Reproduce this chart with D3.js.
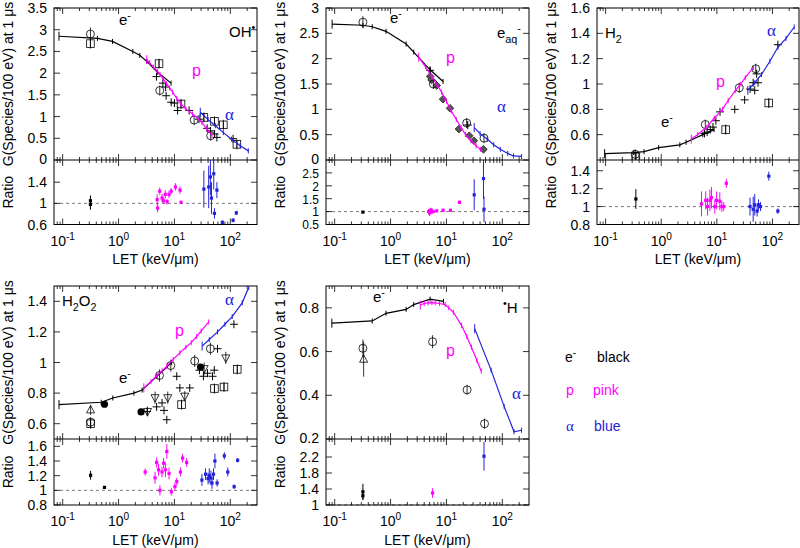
<!DOCTYPE html>
<html>
<head>
<meta charset="utf-8">
<script src="https://cdnjs.cloudflare.com/ajax/libs/d3/7.8.5/d3.min.js"></script>
<style>
  body { margin: 0; background: #fff; }
  text { font-family: "Liberation Sans", Arial, Helvetica, sans-serif; }
</style>
</head>
<body>
<div id="chart"></div>
<script>
// ---------- data (LET keV/um, G value, optional error) ----------
var xDecades = [0.1, 1, 10, 100];

// OH
var ohSimE = [[0.086,2.85],[0.42,2.80],[0.78,2.73],[1.8,2.50],[2.4,2.41],[3.2,2.27],[5.0,2.02],[8.7,1.77]];
var ohSimP = [[3.2,2.31],[3.6,2.24],[4.2,2.14],[4.9,2.05],[5.5,1.97],[6.3,1.87],[7.2,1.76],[8.2,1.66],[9.3,1.56],[11,1.42],[13,1.29],[16,1.18],[21,1.06],[26,0.96],[31,0.86],[38,0.72],[47,0.56]];
var ohSimA = [[29,1.10],[40,0.93],[54,0.79],[75,0.63],[105,0.48],[150,0.33],[210,0.21]];
var ohCircle = [[0.314,2.90,0.15],[5.46,1.60,0.05],[22.5,0.92,0.05],[44.5,0.56,0.04]];
var ohSquare = [[0.314,2.68],[5.3,2.22],[13.1,1.29],[33.6,0.98],[52,0.89],[75,0.81],[131,0.36]];
var ohPlus = [[4.77,1.92],[6.2,1.77],[6.95,1.68],[7.1,1.48],[8.75,1.33],[10,1.31],[11.4,1.14],[18.3,1.14],[27.4,0.94],[38.5,0.73],[44,0.67],[52.3,0.60],[57.5,0.52],[112,0.49]];
var ohRatioE = [[0.314,1.05,0.1],[0.314,0.98,0.1]];
var ohRatioP = [[4.9,1.07,0.1],[5.0,0.91,0.08],[5.46,1.23,0.07],[6.0,1.10,0.08],[6.4,1.05,0.06],[6.85,1.17,0.08],[7.4,1.03,0.05],[8.0,1.17,0.07],[8.75,1.23,0.06],[10.4,1.31,0.07],[12.6,1.25,0.07],[13.1,1.02,0.03]];
var ohRatioA = [[33.6,1.27,0.35],[41,1.31,0.4],[44,1.50,0.35],[46,1.10,0.3],[50.5,1.56,0.3],[52,0.81,0.1],[57.5,1.25,0.15],[72,0.64,0.04],[112,0.68,0.04],[128,0.82,0.04]];
var ohTicks = [0, 0.5, 1, 1.5, 2, 2.5, 3, 3.5];
var ohRatioTicks = [0.6, 1, 1.4];

// e_aq
var eaqSimE = [[0.09,2.68],[0.32,2.66],[0.47,2.63],[0.83,2.54],[1.9,2.29],[2.6,2.13],[5.1,1.78],[8.7,1.55]];
var eaqSimP = [[3.2,2.03],[4.2,1.84],[5.5,1.64],[6.8,1.48],[8.2,1.34],[10,1.16],[12.2,0.97],[15,0.80],[18.3,0.64],[22,0.50],[27.4,0.38],[34,0.28],[41,0.21]];
var eaqSimA = [[31.4,0.64],[40,0.52],[54,0.41],[70,0.30],[92,0.21],[125,0.13],[158,0.08],[221,0.07]];
var eaqCircle = [[0.32,2.72,0.12],[5.84,1.50,0.05],[23,0.73,0.05],[47,0.43,0.04]];
var eaqDiamond = [[5.1,1.65],[5.4,1.58],[6.7,1.47],[8.7,1.20],[11.6,1.02],[16.7,0.61],[25.6,0.48],[31,0.38],[46,0.21]];
var eaqPlus = [[5.1,1.77,0.06],[24,0.69,0.04]];
var eaqRatioE = [[0.32,0.98,0.03]];
var eaqRatioP = [[4.8,1.0,0.1],[5.0,0.95,0.12],[5.2,1.05,0.1],[5.5,1.02,0.12],[5.8,1.0,0.05],[6.7,1.03,0.05],[8.7,1.05,0.06],[11.8,1.05,0.06],[17.1,1.36,0.07]];
var eaqRatioA = [[31.4,1.65,0.6],[46,2.28,0.8],[47,1.09,0.5]];
var eaqTicks = [0, 0.5, 1, 1.5, 2, 2.5, 3];
var eaqRatioTicks = [0.5, 1, 1.5, 2, 2.5];

// H2
var h2SimE = [[0.096,0.45],[0.32,0.458],[0.49,0.466],[0.9,0.498],[2.16,0.52],[2.8,0.54],[5.6,0.60],[8.9,0.64]];
var h2SimP = [[3.47,0.565],[4.5,0.60],[6.4,0.657],[9,0.73],[12.6,0.80],[16,0.87],[21.6,0.95],[27,1.0],[32.4,1.05],[45.5,1.13]];
var h2SimA = [[36,0.95],[48,1.01],[63.6,1.075],[90,1.18],[125,1.29],[176,1.36],[246,1.45]];
var h2Circle = [[0.34,0.445,0.02],[6.2,0.68,0.03],[25.3,0.97,0.04],[50,1.12,0.04]];
var h2Square = [[0.35,0.424],[14.4,0.64],[85.7,0.85]];
var h2Plus = [[6.0,0.61],[6.7,0.62],[7.6,0.64],[8.5,0.66],[9.6,0.71],[11.4,0.78],[21,0.80],[31.6,0.875],[39.6,0.96],[45,1.01],[48,0.95],[52,1.08],[55,1.01],[125,1.31]];
var h2RatioE = [[0.35,1.085,0.11]];
var h2RatioP = [[5.3,1.03,0.14],[6.3,1.07,0.1],[6.8,1.0,0.1],[7.5,1.07,0.12],[8.0,1.10,0.12],[9.2,1.0,0.08],[9.9,1.07,0.1],[11.3,1.06,0.1],[12.3,1.0,0.06],[13.3,1.0,0.05],[14.8,1.26,0.05]];
var h2RatioA = [[39.5,1.0,0.1],[45,0.97,0.14],[48,1.02,0.12],[53,0.95,0.06],[56,1.02,0.06],[61,1.0,0.05],[86,1.34,0.05],[125,0.95,0.03]];
var h2Ticks = [0.6, 0.8, 1, 1.2, 1.4, 1.6];
var h2RatioTicks = [0.8, 1, 1.2, 1.4];

// H2O2
var h2o2SimE = [[0.086,0.725],[0.49,0.74],[0.79,0.768],[1.88,0.80],[2.64,0.82],[4.86,0.91],[8.9,1.0]];
var h2o2SimP = [[2.83,0.834],[3.8,0.875],[4.86,0.915],[6,0.945],[7.3,0.976],[9.5,1.02],[12.5,1.063],[16,1.10],[20,1.13],[25,1.17],[30,1.205],[41,1.265]];
var h2o2SimA = [[31.3,1.107],[42,1.15],[59,1.20],[80,1.25],[108,1.30],[163,1.39],[213,1.49]];
var h2o2Filled = [[0.56,0.727],[2.53,0.677],[29.3,0.97]];
var h2o2Circle = [[0.316,0.61,0.02],[5.4,0.915,0.04],[8.6,0.98,0.04],[23,1.01,0.04],[44,1.09,0.04]];
var h2o2TriUp = [[0.316,0.69,0.02]];
var h2o2TriDown = [[3.3,0.68,0.03],[4.5,0.77,0.04],[7.6,0.77,0.04],[15.3,0.78,0.03],[34,0.96,0.04],[83,1.03,0.04]];
var h2o2Square = [[0.316,0.60],[13.4,0.725],[52,0.83],[77,0.84],[133,0.955]];
var h2o2Plus = [[3.24,0.68],[4.8,0.71],[6.0,0.736],[6.5,0.687],[7.3,0.626],[11,0.91],[12.5,0.834],[18.8,0.834],[28,0.95],[33,0.91],[39,0.93],[48,0.91],[51.6,0.95],[59,1.09],[116,1.25]];
var h2o2RatioE = [[0.316,1.205,0.06],[0.56,1.04,0.02]];
var h2o2RatioP = [[3.0,1.25,0.05],[4.5,1.17,0.08],[4.8,1.38,0.07],[5.2,1.28,0.08],[5.5,1.0,0.07],[6.0,1.25,0.07],[6.4,1.37,0.07],[6.9,1.28,0.1],[7.3,1.53,0.1],[8,1.23,0.08],[8.8,0.98,0.05],[10.2,1.05,0.05],[11,1.12,0.05],[12.8,1.25,0.06],[14,1.44,0.06],[16.5,1.38,0.06]];
var h2o2RatioA = [[31,1.14,0.08],[36,1.22,0.08],[40,1.16,0.08],[42,1.2,0.1],[45,1.17,0.1],[47,1.1,0.08],[50,1.22,0.08],[53,1.4,0.1],[58,1.1,0.05],[78,1.47,0.05],[90,1.25,0.06],[117,1.05,0.03],[135,1.41,0.03]];
var h2o2Ticks = [0.6, 0.8, 1, 1.2, 1.4];
var h2o2RatioTicks = [0.8, 1, 1.2, 1.4, 1.6];

// H
var hSimE = [[0.089,0.73],[0.47,0.74],[0.83,0.775],[1.9,0.793],[2.6,0.815],[5.1,0.84],[8.85,0.83]];
var hSimP = [[3.4,0.813],[4.0,0.82],[4.7,0.823],[5.5,0.824],[6.3,0.823],[7.5,0.82],[9.5,0.815],[11,0.80],[13.3,0.78],[18.6,0.72],[23,0.67],[28,0.62],[35,0.56],[42,0.51]];
var hSimA = [[32,0.705],[63,0.515],[108,0.348],[162,0.233],[220,0.24]];
var hCircle = [[0.32,0.615,0.04],[5.65,0.645,0.03],[23.4,0.425,0.01],[48,0.27,0.01]];
var hTriUp = [[0.33,0.565,0.08]];
var hRatioE = [[0.32,1.33,0.2],[0.32,1.23,0.1]];
var hRatioP = [[5.65,1.3,0.12]];
var hRatioA = [[47,2.22,0.36]];
var hTicks = [0.2, 0.4, 0.6, 0.8];
var hRatioTicks = [1, 1.4, 1.8, 2.2];

// ---------- drawing ----------
var PINK = "#ff00ff", BLUE = "#2222dd";
var svg = d3.select("#chart").append("svg")
    .attr("width", 800)
    .attr("height", 548);

var clipId = 0;

function rich(g, x, y, parts, opt) {
  opt = opt || {};
  var size = opt.size || 14;
  var t = g.append("text")
      .attr("x", x).attr("y", y)
      .attr("fill", opt.color || "#000")
      .attr("text-anchor", opt.anchor || "start")
      .style("font-size", size + "px");
  if (opt.family) t.style("font-family", opt.family);
  if (opt.rotate) t.attr("transform", "rotate(-90," + x + "," + y + ")");
  var shift = 0;
  parts.forEach(function(p) {
    if (typeof p === "string") p = {t: p};
    var want = p.sup ? -0.42 * size : (p.sub ? 0.3 * size : 0);
    var ts = t.append("tspan").attr("dy", want - shift).text(p.t);
    if (p.sup || p.sub) ts.style("font-size", (size * 0.72) + "px");
    shift = want;
  });
  return t;
}

function marker(g, shape, cx, cy) {
  var s = 3.8;
  if (shape === "circle") {
    g.append("circle").attr("cx", cx).attr("cy", cy).attr("r", 4)
      .attr("fill", "none").attr("stroke", "#000").attr("stroke-width", 0.8);
  } else if (shape === "filled") {
    g.append("circle").attr("cx", cx).attr("cy", cy).attr("r", 3.6)
      .attr("fill", "#000");
  } else if (shape === "square") {
    g.append("rect").attr("x", cx - s).attr("y", cy - s).attr("width", 2 * s).attr("height", 2 * s)
      .attr("fill", "none").attr("stroke", "#000").attr("stroke-width", 0.8);
    g.append("path").attr("d", "M" + cx + "," + (cy - s) + "V" + (cy + s))
      .attr("stroke", "#000").attr("stroke-width", 0.8);
  } else if (shape === "plus") {
    g.append("path").attr("d", "M" + (cx - 4) + "," + cy + "H" + (cx + 4) + "M" + cx + "," + (cy - 4) + "V" + (cy + 4))
      .attr("stroke", "#000").attr("stroke-width", 1);
  } else if (shape === "diamond") {
    g.append("path").attr("d", "M" + cx + "," + (cy - 3.8) + "L" + (cx + 3.8) + "," + cy + "L" + cx + "," + (cy + 3.8) + "L" + (cx - 3.8) + "," + cy + "Z")
      .attr("fill", "#555").attr("stroke", "#222").attr("stroke-width", 0.8);
  } else if (shape === "triup") {
    g.append("path").attr("d", "M" + cx + "," + (cy - 4.5) + "L" + (cx + 4) + "," + (cy + 3) + "L" + (cx - 4) + "," + (cy + 3) + "Z")
      .attr("fill", "none").attr("stroke", "#000").attr("stroke-width", 0.8);
  } else if (shape === "tridown") {
    g.append("path").attr("d", "M" + cx + "," + (cy + 4.5) + "L" + (cx + 4) + "," + (cy - 3) + "L" + (cx - 4) + "," + (cy - 3) + "Z")
      .attr("fill", "none").attr("stroke", "#000").attr("stroke-width", 0.8);
  }
}

function drawPanel(p) {
  var g = svg.append("g");
  var x = d3.scaleLog().domain([0.07, 300]).range([p.left, p.right]);
  var y = d3.scaleLinear().domain(p.yMain).range([p.mid, p.top]);
  var yr = d3.scaleLinear().domain(p.yRatio).range([p.bottom, p.mid]);

  // clip regions
  var cm = "clip" + (clipId++), cr = "clip" + (clipId++);
  var defs = g.append("defs");
  defs.append("clipPath").attr("id", cm).append("rect")
    .attr("x", p.left).attr("y", p.top).attr("width", p.right - p.left).attr("height", p.mid - p.top);
  defs.append("clipPath").attr("id", cr).append("rect")
    .attr("x", p.left).attr("y", p.mid).attr("width", p.right - p.left).attr("height", p.bottom - p.mid);

  // dashed line at ratio 1
  g.append("line").attr("x1", p.left).attr("x2", p.right)
    .attr("y1", yr(1)).attr("y2", yr(1))
    .attr("stroke", "#555").attr("stroke-width", 0.8).attr("stroke-dasharray", "3,3");

  // x ticks (log) on every horizontal border
  var minors = [];
  [0.01, 0.1, 1, 10, 100].forEach(function(d) {
    for (var m = 2; m <= 9; m++) {
      var v = d * m;
      if (v > 0.07 && v < 300) minors.push(v);
    }
  });
  var tk = g.append("g").attr("stroke", "#000").attr("stroke-width", 0.8);
  function xticks(vals, len) {
    vals.forEach(function(v) {
      var px = x(v);
      tk.append("line").attr("x1", px).attr("x2", px).attr("y1", p.top).attr("y2", p.top + len);
      tk.append("line").attr("x1", px).attr("x2", px).attr("y1", p.mid - len).attr("y2", p.mid + len);
      tk.append("line").attr("x1", px).attr("x2", px).attr("y1", p.bottom).attr("y2", p.bottom - len);
    });
  }
  xticks(minors, 3);
  xticks(xDecades, 6);

  // y ticks, main and ratio
  p.yMainTicks.forEach(function(v) {
    tk.append("line").attr("x1", p.left).attr("x2", p.left + 6).attr("y1", y(v)).attr("y2", y(v));
    tk.append("line").attr("x1", p.right).attr("x2", p.right - 6).attr("y1", y(v)).attr("y2", y(v));
    g.append("text").attr("x", p.left - 7).attr("y", y(v)).attr("dy", v === p.yMain[0] ? "0.25em" : "0.36em")
      .attr("text-anchor", "end").style("font-size", "14px").text(v);
  });
  p.yRatioTicks.forEach(function(v) {
    tk.append("line").attr("x1", p.left).attr("x2", p.left + 6).attr("y1", yr(v)).attr("y2", yr(v));
    tk.append("line").attr("x1", p.right).attr("x2", p.right - 6).attr("y1", yr(v)).attr("y2", yr(v));
    g.append("text").attr("x", p.left - 7).attr("y", yr(v)).attr("dy", p.ratioFont ? "0.4em" : "0.36em")
      .attr("text-anchor", "end").style("font-size", (p.ratioFont || 14) + "px").text(v);
  });

  // x tick labels
  xDecades.forEach(function(v) {
    var e = Math.round(Math.log10(v));
    rich(g, x(v), p.tickY, ["10", {t: String(e), sup: true}], {anchor: "middle"});
  });

  // frames
  g.append("rect").attr("x", p.left).attr("y", p.top).attr("width", p.right - p.left).attr("height", p.bottom - p.top)
    .attr("fill", "none").attr("stroke", "#000").attr("stroke-width", 1);
  g.append("line").attr("x1", p.left).attr("x2", p.right).attr("y1", p.mid).attr("y2", p.mid)
    .attr("stroke", "#000").attr("stroke-width", 1);

  // axis titles
  rich(g, p.left - 41, (p.top + p.mid) / 2, ["G(Species/100 eV) at 1 \u03bcs"], {anchor: "middle", rotate: true});
  rich(g, p.left - 41, (p.mid + p.bottom) / 2, ["Ratio"], {anchor: "middle", rotate: true});
  rich(g, (p.left + p.right) / 2, p.titleY, ["LET (keV/\u03bcm)"], {anchor: "middle"});

  // main plot contents
  var main = g.append("g").attr("clip-path", "url(#" + cm + ")");
  var line = d3.line().x(function(d) { return x(d[0]); }).y(function(d) { return y(d[1]); });
  p.exp.forEach(function(s) {
    s.data.forEach(function(d) {
      var cx = x(d[0]), cy = y(d[1]);
      var half = d.length > 2 ? Math.abs(y(d[1] + d[2]) - cy) : 0;
      if (s.shape === "circle" || s.shape === "square" || s.shape.indexOf("tri") === 0) half = Math.max(half, 5);
      if (half > 0) {
        main.append("line").attr("x1", cx).attr("x2", cx).attr("y1", cy - half).attr("y2", cy + half)
          .attr("stroke", "#000").attr("stroke-width", 0.8);
      }
      marker(main, s.shape, cx, cy);
    });
  });
  p.sims.forEach(function(s) {
    main.append("path").datum(s.data).attr("d", line)
      .attr("fill", "none").attr("stroke", s.color).attr("stroke-width", 1.2);
    s.data.forEach(function(d, i) {
      var h = i === 0 ? 4.5 : 2.5;
      main.append("line").attr("x1", x(d[0])).attr("x2", x(d[0]))
        .attr("y1", y(d[1]) - h).attr("y2", y(d[1]) + h)
        .attr("stroke", s.color).attr("stroke-width", 1);
    });
  });

  // ratio contents
  var rat = g.append("g").attr("clip-path", "url(#" + cr + ")");
  p.ratio.forEach(function(s) {
    s.data.forEach(function(d) {
      var cx = x(d[0]);
      rat.append("line").attr("x1", cx).attr("x2", cx)
        .attr("y1", yr(d[1] - d[2])).attr("y2", yr(d[1] + d[2]))
        .attr("stroke", s.color).attr("stroke-width", 1);
      rat.append("rect").attr("x", cx - 1.6).attr("y", yr(d[1]) - 1.6).attr("width", 3.2).attr("height", 3.2)
        .attr("fill", s.color);
    });
  });

  p.labels(g);
}

// ---------- panels ----------
var topRow = {top: 8, mid: 160, bottom: 224.5, tickY: 246, titleY: 264};
var botRow = {top: 286, mid: 439, bottom: 505, tickY: 526, titleY: 545};
function row(r, o) { return Object.assign({}, r, o); }
var alphaFont = "'Liberation Serif', 'DejaVu Serif', serif";

drawPanel(row(topRow, {
  left: 54, right: 257, yMain: [0, 3.5], yMainTicks: ohTicks, yRatio: [0.6, 1.82], yRatioTicks: ohRatioTicks,
  sims: [{data: ohSimE, color: "#000"}, {data: ohSimP, color: PINK}, {data: ohSimA, color: BLUE}],
  exp: [{data: ohSquare, shape: "square"}, {data: ohCircle, shape: "circle"}, {data: ohPlus, shape: "plus"}],
  ratio: [{data: ohRatioE, color: "#000"}, {data: ohRatioP, color: PINK}, {data: ohRatioA, color: BLUE}],
  labels: function(g) {
    rich(g, 119, 25, ["e", {t: "-", sup: true}], {size: 15});
    rich(g, 229, 37, ["OH", {t: "\u2022", sup: true}], {size: 15});
    rich(g, 192, 76, ["p"], {size: 16, color: PINK});
    rich(g, 225, 120, ["\u03b1"], {size: 17, color: BLUE, family: alphaFont});
  }
}));

drawPanel(row(topRow, {
  left: 326, right: 529, yMain: [0, 3], yMainTicks: eaqTicks, yRatio: [0.5, 3.0], yRatioTicks: eaqRatioTicks,
  ratioFont: 12,
  sims: [{data: eaqSimE, color: "#000"}, {data: eaqSimP, color: PINK}, {data: eaqSimA, color: BLUE}],
  exp: [{data: eaqDiamond, shape: "diamond"}, {data: eaqCircle, shape: "circle"}, {data: eaqPlus, shape: "plus"}],
  ratio: [{data: eaqRatioE, color: "#000"}, {data: eaqRatioP, color: PINK}, {data: eaqRatioA, color: BLUE}],
  labels: function(g) {
    rich(g, 390, 23, ["e", {t: "-", sup: true}], {size: 15});
    rich(g, 497, 38, ["e", {t: "aq", sub: true}, {t: "-", sup: true}], {size: 15});
    rich(g, 446, 63, ["p"], {size: 16, color: PINK});
    rich(g, 497, 112, ["\u03b1"], {size: 17, color: BLUE, family: alphaFont});
  }
}));

drawPanel(row(topRow, {
  left: 597, right: 799, yMain: [0.4, 1.6], yMainTicks: h2Ticks, yRatio: [0.8, 1.52], yRatioTicks: h2RatioTicks,
  sims: [{data: h2SimE, color: "#000"}, {data: h2SimP, color: PINK}, {data: h2SimA, color: BLUE}],
  exp: [{data: h2Square, shape: "square"}, {data: h2Circle, shape: "circle"}, {data: h2Plus, shape: "plus"}],
  ratio: [{data: h2RatioE, color: "#000"}, {data: h2RatioP, color: PINK}, {data: h2RatioA, color: BLUE}],
  labels: function(g) {
    rich(g, 605, 38, ["H", {t: "2", sub: true}], {size: 15});
    rich(g, 767, 36, ["\u03b1"], {size: 17, color: BLUE, family: alphaFont});
    rich(g, 716, 87, ["p"], {size: 16, color: PINK});
    rich(g, 661, 127, ["e", {t: "-", sup: true}], {size: 15});
  }
}));

drawPanel(row(botRow, {
  left: 54, right: 257, yMain: [0.5, 1.5], yMainTicks: h2o2Ticks, yRatio: [0.8, 1.7], yRatioTicks: h2o2RatioTicks,
  sims: [{data: h2o2SimE, color: "#000"}, {data: h2o2SimP, color: PINK}, {data: h2o2SimA, color: BLUE}],
  exp: [{data: h2o2Square, shape: "square"}, {data: h2o2Circle, shape: "circle"}, {data: h2o2TriUp, shape: "triup"},
        {data: h2o2TriDown, shape: "tridown"}, {data: h2o2Plus, shape: "plus"}, {data: h2o2Filled, shape: "filled"}],
  ratio: [{data: h2o2RatioE, color: "#000"}, {data: h2o2RatioP, color: PINK}, {data: h2o2RatioA, color: BLUE}],
  labels: function(g) {
    rich(g, 62, 306, ["H", {t: "2", sub: true}, "O", {t: "2", sub: true}], {size: 15});
    rich(g, 225, 305, ["\u03b1"], {size: 17, color: BLUE, family: alphaFont});
    rich(g, 175, 336, ["p"], {size: 16, color: PINK});
    rich(g, 119, 383, ["e", {t: "-", sup: true}], {size: 15});
  }
}));

drawPanel(row(botRow, {
  left: 326, right: 529, yMain: [0.2, 0.9], yMainTicks: hTicks, yRatio: [1, 2.65], yRatioTicks: hRatioTicks,
  sims: [{data: hSimE, color: "#000"}, {data: hSimP, color: PINK}, {data: hSimA, color: BLUE}],
  exp: [{data: hCircle, shape: "circle"}, {data: hTriUp, shape: "triup"}],
  ratio: [{data: hRatioE, color: "#000"}, {data: hRatioP, color: PINK}, {data: hRatioA, color: BLUE}],
  labels: function(g) {
    rich(g, 373, 302, ["e", {t: "-", sup: true}], {size: 15});
    rich(g, 503, 313, [{t: "\u2022", sup: true}, "H"], {size: 15});
    rich(g, 446, 356, ["p"], {size: 16, color: PINK});
    rich(g, 512, 399, ["\u03b1"], {size: 17, color: BLUE, family: alphaFont});
  }
}));

// legend
var leg = svg.append("g");
rich(leg, 565, 362, ["e", {t: "-", sup: true}], {size: 14});
rich(leg, 597, 362, ["black"], {size: 14});
rich(leg, 566, 395, ["p"], {size: 14, color: PINK});
rich(leg, 593, 395, ["pink"], {size: 14, color: PINK});
rich(leg, 566, 431, ["\u03b1"], {size: 15, color: BLUE, family: alphaFont});
rich(leg, 594, 431, ["blue"], {size: 14, color: BLUE});
</script>
</body>
</html>
